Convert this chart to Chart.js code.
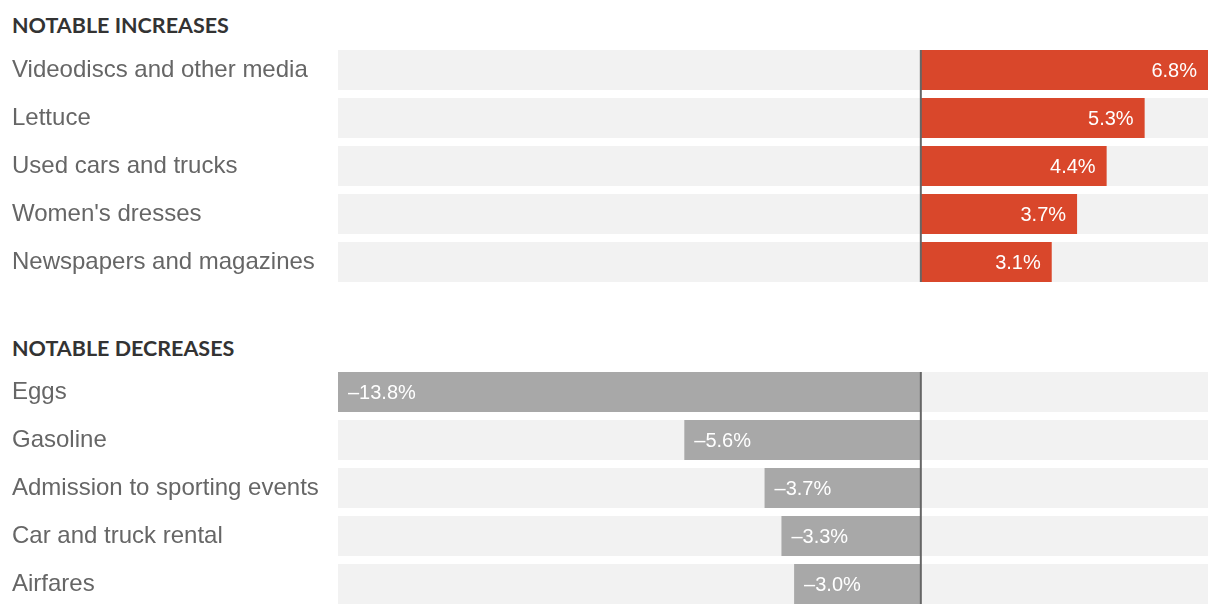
<!DOCTYPE html>
<html>
<head>
<meta charset="utf-8">
<script src="https://cdn.jsdelivr.net/npm/chart.js@4"></script>
<style>
  body { margin: 0; background: #fff; width: 1220px; height: 614px; position: relative; overflow: hidden; }
  .head { position: absolute; left: 12px; font: 700 21.5px Lato, sans-serif; color: #333; line-height: 1; }
  .box { position: absolute; left: 0; width: 1220px; height: 240px; }
</style>
</head>
<body>
<div class="head" style="top:15px">NOTABLE INCREASES</div>
<div class="box" style="top:46px"><canvas id="upChart"></canvas></div>
<div class="head" style="top:338px">NOTABLE DECREASES</div>
<div class="box" style="top:368px"><canvas id="downChart"></canvas></div>
<script>
// Data
const upLabels = ['Videodiscs and other media', 'Lettuce', 'Used cars and trucks', "Women's dresses", 'Newspapers and magazines'];
const upValues = [6.8, 5.3, 4.4, 3.7, 3.1];
const downLabels = ['Eggs', 'Gasoline', 'Admission to sporting events', 'Car and truck rental', 'Airfares'];
const downValues = [-13.8, -5.6, -3.7, -3.3, -3.0];
const xMin = -13.8;
const xMax = 6.8;

function fmt(v) {
    return (v < 0 ? '\u2013' : '') + Math.abs(v).toFixed(1) + '%';
}

// value labels inside the bars + zero line
const barExtras = {
    id: 'barExtras',
    afterDatasetsDraw(chart) {
        const ctx = chart.ctx;
        const values = chart.data.datasets[0].data;
        const bars = chart.getDatasetMeta(0).data;
        const track = chart.getDatasetMeta(1).data;
        const x0 = chart.scales.x.getPixelForValue(0);
        ctx.save();
        // zero line
        const first = track[0], last = track[track.length - 1];
        ctx.fillStyle = '#666';
        ctx.fillRect(x0 - 1, first.y - first.height / 2, 2, (last.y + last.height / 2) - (first.y - first.height / 2));
        // labels
        ctx.font = '20px "Liberation Sans", Arial, sans-serif';
        ctx.fillStyle = '#fff';
        ctx.textBaseline = 'middle';
        bars.forEach((bar, i) => {
            const v = values[i];
            if (v >= 0) {
                ctx.textAlign = 'right';
                ctx.fillText(fmt(v), bar.x - 11, bar.y + 1);
            } else {
                ctx.textAlign = 'left';
                ctx.fillText(fmt(v), bar.x + 10, bar.y + 1);
            }
        });
        ctx.restore();
    }
};

function makeChart(id, labels, values, color) {
    return new Chart(document.getElementById(id), {
        type: 'bar',
        data: {
            labels: labels,
            datasets: [{
                data: values,
                backgroundColor: color,
                order: 0
            }, {
                data: labels.map(() => [xMin, xMax]),
                backgroundColor: '#f2f2f2',
                order: 1
            }]
        },
        options: {
            indexAxis: 'y',
            responsive: true,
            maintainAspectRatio: false,
            animation: false,
            layout: { padding: { left: 12, right: 12, top: 0, bottom: 0 } },
            datasets: {
                bar: { grouped: false, categoryPercentage: 1, barPercentage: 40 / 48, borderWidth: 0 }
            },
            scales: {
                x: { display: false, min: xMin, max: xMax },
                y: {
                    afterFit(scale) {
                        scale.width = 326;
                        scale.paddingTop = 0;
                        scale.paddingBottom = 0;
                    },
                    grid: { display: false },
                    border: { display: false },
                    ticks: {
                        crossAlign: 'far',
                        color: '#666',
                        padding: 0,
                        font: { family: '"Liberation Sans", Arial, sans-serif', size: 24 }
                    }
                }
            },
            plugins: {
                legend: { display: false },
                tooltip: { enabled: false }
            }
        },
        plugins: [barExtras]
    });
}

makeChart('upChart', upLabels, upValues, '#d9472b');
makeChart('downChart', downLabels, downValues, '#a8a8a8');
</script>
</body>
</html>
